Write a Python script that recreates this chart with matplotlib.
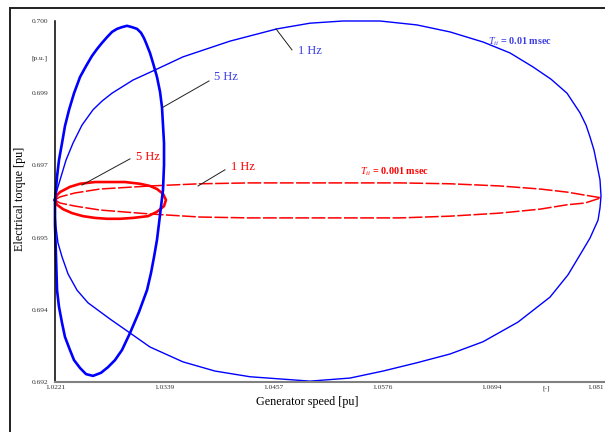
import matplotlib
matplotlib.use("Agg")
import matplotlib.pyplot as plt
import matplotlib.transforms as mtransforms
from matplotlib.patches import Rectangle

plt.rcParams["font.family"] = ["Liberation Serif", "DejaVu Serif"]
plt.rcParams["mathtext.fontset"] = "custom"
plt.rcParams["mathtext.rm"] = "Liberation Serif"
plt.rcParams["mathtext.it"] = "Liberation Serif:italic"
plt.rcParams["mathtext.bf"] = "Liberation Serif:bold"

# Generator speed / electrical torque trajectories (pu)
# T_ii = 0.01 msec, 5 Hz
speed_5hz_a = [1.02210, 1.02221, 1.02232, 1.02253, 1.02286, 1.02318, 1.02362, 1.02416,
               1.02481, 1.02546, 1.02610, 1.02665, 1.02719, 1.02773, 1.02827, 1.02881,
               1.02935, 1.02989, 1.03043, 1.03098, 1.03141, 1.03173, 1.03195, 1.03238,
               1.03271, 1.03314, 1.03347, 1.03368, 1.03379, 1.03390, 1.03390, 1.03379,
               1.03357, 1.03336, 1.03314, 1.03282, 1.03249, 1.03206, 1.03119, 1.03022,
               1.02935, 1.02859, 1.02784, 1.02708, 1.02621, 1.02546, 1.02481, 1.02416,
               1.02372, 1.02318, 1.02286, 1.02253, 1.02232, 1.02221, 1.02210, 1.02210]
torque_5hz_a = [0.69626, 0.69653, 0.69679, 0.69717, 0.69756, 0.69795, 0.69832, 0.69870,
                0.69907, 0.69932, 0.69955, 0.69971, 0.69985, 0.69998, 0.70010, 0.70017,
                0.70021, 0.70024, 0.70021, 0.70017, 0.70008, 0.69996, 0.69985, 0.69962,
                0.69939, 0.69907, 0.69873, 0.69838, 0.69797, 0.69756, 0.69706, 0.69649,
                0.69610, 0.69573, 0.69535, 0.69496, 0.69459, 0.69420, 0.69370, 0.69322,
                0.69283, 0.69260, 0.69244, 0.69231, 0.69224, 0.69228, 0.69242, 0.69260,
                0.69283, 0.69313, 0.69345, 0.69382, 0.69420, 0.69496, 0.69569, 0.69626]

# T_ii = 0.01 msec, 1 Hz
speed_1hz_a = [1.02210, 1.02232, 1.02275, 1.02329, 1.02405, 1.02502, 1.02621, 1.02719,
               1.02827, 1.03054, 1.03292, 1.03595, 1.04104, 1.04613, 1.04970, 1.05327,
               1.05728, 1.06128, 1.06486, 1.06843, 1.07135, 1.07384, 1.07579, 1.07752,
               1.07893, 1.07958, 1.08001, 1.08044, 1.08077, 1.08109, 1.08120, 1.08109,
               1.08088, 1.08001, 1.07925, 1.07763, 1.07568, 1.07222, 1.06843, 1.06486,
               1.06128, 1.05760, 1.05403, 1.04970, 1.04321, 1.03942, 1.03595, 1.03238,
               1.03022, 1.02805, 1.02567, 1.02448, 1.02351, 1.02286, 1.02242, 1.02221,
               1.02210, 1.02210]
torque_1hz_a = [0.69626, 0.69649, 0.69679, 0.69717, 0.69756, 0.69797, 0.69832, 0.69852,
                0.69870, 0.69900, 0.69923, 0.69953, 0.69989, 0.70017, 0.70030, 0.70035,
                0.70035, 0.70026, 0.70010, 0.69987, 0.69962, 0.69930, 0.69902, 0.69870,
                0.69825, 0.69797, 0.69770, 0.69740, 0.69706, 0.69672, 0.69635, 0.69608,
                0.69580, 0.69539, 0.69512, 0.69455, 0.69404, 0.69347, 0.69302, 0.69274,
                0.69254, 0.69235, 0.69219, 0.69212, 0.69222, 0.69235, 0.69256, 0.69290,
                0.69322, 0.69354, 0.69391, 0.69420, 0.69457, 0.69496, 0.69528, 0.69564,
                0.69596, 0.69626]

# T_ii = 0.001 msec, 5 Hz
speed_5hz_b = [1.02210, 1.02232, 1.02264, 1.02372, 1.02481, 1.02643, 1.02805, 1.02968,
               1.03130, 1.03238, 1.03314, 1.03379, 1.03411, 1.03390, 1.03314, 1.03217,
               1.03054, 1.02914, 1.02773, 1.02643, 1.02513, 1.02394, 1.02297, 1.02232,
               1.02210]
torque_5hz_b = [0.69626, 0.69637, 0.69644, 0.69656, 0.69663, 0.69667, 0.69667, 0.69667,
                0.69663, 0.69658, 0.69651, 0.69640, 0.69626, 0.69612, 0.69599, 0.69589,
                0.69585, 0.69583, 0.69583, 0.69585, 0.69589, 0.69596, 0.69605, 0.69615,
                0.69626]

# T_ii = 0.001 msec, 1 Hz
speed_1hz_b = [1.02210, 1.02264, 1.02426, 1.02697, 1.03238, 1.03779, 1.04321, 1.04862,
               1.05403, 1.05944, 1.06486, 1.07027, 1.07460, 1.07752, 1.07947, 1.08120,
               1.07947, 1.07752, 1.07460, 1.07027, 1.06486, 1.05944, 1.05403, 1.04862,
               1.04321, 1.03779, 1.03238, 1.02697, 1.02426, 1.02264, 1.02210]
torque_1hz_b = [0.69626, 0.69633, 0.69642, 0.69651, 0.69658, 0.69663, 0.69665, 0.69665,
                0.69665, 0.69665, 0.69663, 0.69658, 0.69651, 0.69644, 0.69637, 0.69631,
                0.69619, 0.69615, 0.69605, 0.69596, 0.69589, 0.69585, 0.69585, 0.69585,
                0.69585, 0.69587, 0.69594, 0.69603, 0.69612, 0.69619, 0.69626]

# Axis ticks
x_ticks = [1.0221, 1.03392, 1.04574, 1.05756, 1.06938, 1.07529, 1.0812]
x_labels = ["1.0221", "1.0339", "1.0457", "1.0576", "1.0694", "[-]", "1.081"]
y_ticks = [0.6921, 0.69375, 0.6954, 0.69705, 0.6987, 0.699525, 0.70035]
y_labels = ["0.692", "0.694", "0.695", "0.697", "0.699", "[p.u.]", "0.700"]

BLUE = "#0000ff"
RED = "#ff0000"
BLUE_TXT = "#3c3ce6"

fig = plt.figure(figsize=(6.05, 4.32), dpi=100)
fig.patches.append(Rectangle((10 / 605, -0.1), 2.0, (432 - 8) / 432 + 0.1,
                             transform=fig.transFigure, fill=False,
                             edgecolor="#202020", linewidth=1.4))

ax = fig.add_axes([55 / 605, 50 / 432, 553.4 / 605, 361 / 432])
ax.set_xlim(1.0221, 1.0820)
ax.set_ylim(0.6921, 0.70035)

ax.plot(speed_1hz_b, torque_1hz_b, color=RED, lw=1.1, ls=(0, (9, 1.6)), clip_on=False)
ax.plot(speed_1hz_a, torque_1hz_a, color=BLUE, lw=1.0, clip_on=False)
ax.plot(speed_5hz_b, torque_5hz_b, color=RED, lw=1.9, clip_on=False)
ax.plot(speed_5hz_a, torque_5hz_a, color=BLUE, lw=1.9, clip_on=False)

for side in ("top", "right"):
    ax.spines[side].set_visible(False)
ax.spines["left"].set_color("black")
ax.spines["left"].set_linewidth(1.1)
ax.spines["bottom"].set_color("#808080")
ax.spines["bottom"].set_linewidth(1.5)

ax.set_xticks(x_ticks)
ax.set_xticklabels(x_labels)
ax.set_yticks(y_ticks)
ax.set_yticklabels(y_labels)
ax.tick_params(axis="both", length=0, labelsize=5.3, labelcolor="#333333")
ax.tick_params(axis="x", pad=2.5)
ax.tick_params(axis="y", pad=5)

# last speed label sits flush with the right edge of the figure
last = ax.get_xticklabels()[-1]
last.set_horizontalalignment("right")
last.set_transform(last.get_transform()
                   + mtransforms.ScaledTranslation(3 / 100, 0, fig.dpi_scale_trans))

fig.text(307.5 / 605, 1 - 402 / 432, "Generator speed [pu]", ha="center", va="center",
         fontsize=8.7)
fig.text(20 / 605, 1 - 199 / 432, "Electrical torque [pu]", ha="center", va="center",
         rotation=90, fontsize=8.7)

# Leader lines and labels
leaders = [
    ((1.04602, 0.70017), (1.04775, 0.69969)),
    ((1.03379, 0.69838), (1.03877, 0.69898)),
    ((1.02502, 0.69660), (1.03022, 0.69720)),
    ((1.03758, 0.69658), (1.04050, 0.69695)),
]
for (x0, y0), (x1, y1) in leaders:
    ax.plot([x0, x1], [y0, y1], color="#202020", lw=0.7)

ax.text(1.04840, 0.69966, "1 Hz", color=BLUE_TXT, fontsize=9, ha="left", va="center")
ax.text(1.03931, 0.69907, "5 Hz", color=BLUE_TXT, fontsize=9, ha="left", va="center")
ax.text(1.06897, 0.69987, r"$T_{ii}$ = 0.01 msec", color=BLUE_TXT, fontsize=7.3,
        fontweight="bold", ha="left", va="center")
ax.text(1.03087, 0.69724, "5 Hz", color=RED, fontsize=9, ha="left", va="center")
ax.text(1.04115, 0.69701, "1 Hz", color=RED, fontsize=9, ha="left", va="center")
ax.text(1.05511, 0.69690, r"$T_{ii}$ = 0.001 msec", color=RED, fontsize=7.3,
        fontweight="bold", ha="left", va="center")

fig.savefig("out.png", dpi=100)
